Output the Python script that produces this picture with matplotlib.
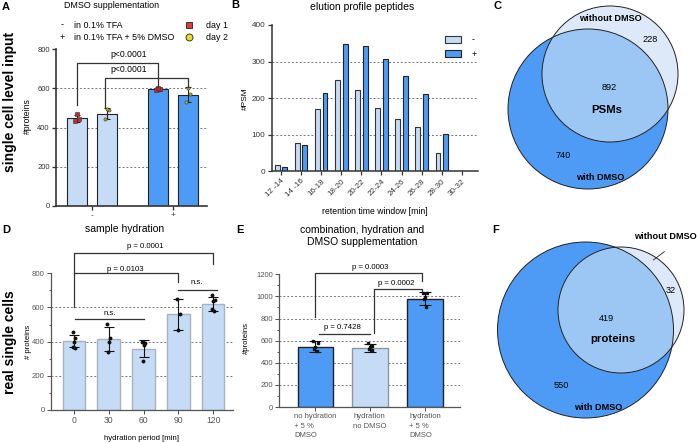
import matplotlib.pyplot as plt
from matplotlib.patches import Circle
from matplotlib.lines import Line2D
from matplotlib.ticker import MultipleLocator

plt.rcParams['font.family'] = ['Liberation Sans', 'DejaVu Sans']

# ---------------- datos ----------------
# A: DMSO supplementation
a_pos = [0, 1, 2.7, 3.7]
a_mean = [446, 470, 595, 567]
a_sd = [20, 27, 10, 38]
a_pts = [[432, 444, 468], [441, 487, 492], [591, 596, 600], [530, 572, 601]]
a_day = [1, 2, 1, 2]
a_groups = ['-', '+']

# B: elution profile
b_windows = ['12 -14', '14 -16', '16-18', '18-20', '20-22', '22-24', '24-26', '26-28', '28-30', '30-32']
b_minus = [18, 78, 170, 249, 221, 173, 143, 121, 51, 2]
b_plus = [13, 71, 215, 347, 342, 306, 260, 211, 101, 2]

# C / F: venn (solo sin DMSO, ambos, solo con DMSO)
c_counts = [228, 892, 740]
f_counts = [32, 419, 550]

# D: sample hydration
d_times = ['0', '30', '60', '90', '120']
d_mean = [402, 414, 359, 561, 621]
d_sd = [35, 70, 50, 91, 40]
d_pts = [[455, 420, 400, 370, 360], [505, 422, 397, 337], [398, 390, 380, 285],
         [652, 560, 468], [672, 645, 635, 590, 580]]

# E: combination
e_labels = ['no hydration\n+ 5 %\nDMSO', 'hydration\nno DMSO', 'hydration\n+ 5 %\nDMSO']
e_mean = [545, 536, 978]
e_sd = [50, 35, 60]
e_pts = [[600, 575, 540, 520, 510], [580, 555, 540, 525, 515], [1035, 1030, 995, 975, 900]]

LIGHT = '#c6dcf6'
DARK = '#4d9bf5'
W, H = 697, 442

fig = plt.figure(figsize=(W / 100, H / 100), dpi=100)

def rect(l, t, r, b):
    return [l / W, 1 - b / H, (r - l) / W, (b - t) / H]

# capa para textos y venn en pixeles
ov = fig.add_axes([0, 0, 1, 1])
ov.set_xlim(0, W)
ov.set_ylim(H, 0)
ov.axis('off')

def estilo(ax, col='#333333', lw=1.0):
    for s in ['top', 'right']:
        ax.spines[s].set_visible(False)
    for s in ['left', 'bottom']:
        ax.spines[s].set_color(col)
        ax.spines[s].set_linewidth(lw)
    ax.tick_params(colors=col, length=3, width=lw * 0.8, pad=1.5)
    ax.set_facecolor('none')

def rejilla(ax, vals):
    for v in vals:
        ax.axhline(v, color='#777777', lw=0.7, ls=(0, (2, 2)), zorder=0)

def corchete(ax, x1, x2, y, y1, y2, col='#333333', lw=0.9):
    ax.plot([x1, x1, x2, x2], [y1, y, y, y2], color=col, lw=lw, clip_on=False, zorder=5)

jit = [-0.08, 0.08, 0.0, -0.05, 0.05]

# ---------------- A ----------------
axA = fig.add_axes(rect(56, 49, 207, 206))
estilo(axA, lw=1.2)
rejilla(axA, [200, 400, 600])
colsA = [LIGHT, LIGHT, DARK, DARK]
axA.bar(a_pos, a_mean, width=0.66, color=colsA, edgecolor='#222222', lw=0.8, zorder=2)
axA.errorbar(a_pos, a_mean, yerr=a_sd, fmt='none', ecolor='#222222', elinewidth=0.8,
             capsize=2.5, capthick=0.8, zorder=3)
for i, pts in enumerate(a_pts):
    for j, v in enumerate(pts):
        if a_day[i] == 1:
            axA.plot(a_pos[i] + jit[j], v, 's', ms=2.3, mfc='#c8282e', mec='#333333', mew=0.4, zorder=4)
        else:
            axA.plot(a_pos[i] + jit[j], v, 'o', ms=2.3, mfc='#b8b020', mec='#333333', mew=0.4, zorder=4)
axA.set_xlim(-0.7, 4.33)
axA.set_ylim(0, 800)
axA.set_yticks([0, 200, 400, 600, 800])
axA.set_xticks([0.5, 3.2])
axA.set_xticklabels(a_groups, fontsize=6)
axA.tick_params(axis='y', labelsize=5.5)
axA.set_ylabel('#proteins', fontsize=6.2)
axA.yaxis.set_label_coords(-0.161, 0.57)
corchete(axA, 0, 2.7, 728, 515, 608)
corchete(axA, 0.93, 3.7, 653, 505, 608)
axA.text(1.73, 770, 'p<0.0001', ha='center', va='center', fontsize=6.2)
axA.text(1.73, 695, 'p<0.0001', ha='center', va='center', fontsize=6.2)
axA.legend(handles=[Line2D([], [], marker='s', ls='none', ms=5, mfc='#e8343a', mec='#222222', mew=0.6),
                    Line2D([], [], marker='o', ls='none', ms=5, mfc='#e8e01a', mec='#222222', mew=0.6)],
           labels=['day 1', 'day 2'], loc='center left', bbox_to_anchor=(180 / W, 1 - 31.5 / H),
           bbox_transform=fig.transFigure, frameon=False, fontsize=6.4, handlelength=1.0,
           handletextpad=1.4, labelspacing=0.35, borderpad=0)

ov.text(112, 6, 'DMSO supplementation', ha='center', va='center', fontsize=6.4)
ov.text(62, 25, '-', ha='center', va='center', fontsize=6.4)
ov.text(62, 37.7, '+', ha='center', va='center', fontsize=6.4)
ov.text(74, 25, 'in 0.1% TFA', ha='left', va='center', fontsize=6.4)
ov.text(74, 37.7, 'in 0.1% TFA + 5% DMSO', ha='left', va='center', fontsize=6.4)
ov.text(10, 102, 'single cell level input', rotation=90, ha='center', va='center',
        fontsize=10, fontweight='bold')

# ---------------- B ----------------
axB = fig.add_axes(rect(271.7, 25, 478, 171.3))
estilo(axB, lw=1.1)
rejilla(axB, [100, 200, 300])
xb = list(range(len(b_windows)))
axB.bar([x - 0.19 for x in xb], b_minus, width=0.24, color=LIGHT, edgecolor='#333333', lw=0.8, zorder=2, label='-')
axB.bar([x + 0.19 for x in xb], b_plus, width=0.24, color=DARK, edgecolor='#222222', lw=0.8, zorder=2, label='+')
axB.set_xlim(-0.46, 9.8)
axB.set_ylim(0, 400)
axB.set_yticks([0, 100, 200, 300, 400])
axB.set_xticks(xb)
axB.set_xticklabels(b_windows, rotation=45, ha='right', rotation_mode='anchor', fontsize=5.8)
axB.tick_params(axis='y', labelsize=5.9)
axB.set_ylabel('#PSM', fontsize=6.0)
axB.yaxis.set_label_coords(-0.108, 0.5)
axB.set_xlabel('retention time window [min]', fontsize=6.2)
axB.xaxis.set_label_coords(0.5, -0.245)
axB.legend(loc='upper left', bbox_to_anchor=(441 / W, 1 - 31 / H), bbox_transform=fig.transFigure,
           frameon=False, fontsize=6.4, handlelength=1.7, handleheight=0.8, handletextpad=1.2,
           labelspacing=0.6, borderpad=0)
ov.text(361.7, 7, 'elution profile peptides', ha='center', va='center', fontsize=7.5)

# ---------------- C y F (venn) ----------------
def venn(cg, rg, cs, rs, counts, pos, nombre):
    big = Circle(cg, rg, facecolor=DARK, edgecolor='none', zorder=1)
    small = Circle(cs, rs, facecolor='#dde9f8', edgecolor='none', zorder=2)
    inter = Circle(cs, rs, facecolor='#9cc7f5', edgecolor='none', zorder=3)
    for p in (big, small, inter):
        ov.add_patch(p)
    inter.set_clip_path(big)
    ov.add_patch(Circle(cg, rg, facecolor='none', edgecolor='#222222', lw=0.7, zorder=4))
    ov.add_patch(Circle(cs, rs, facecolor='none', edgecolor='#222222', lw=0.7, zorder=4))
    ov.text(*pos[0], str(counts[0]), ha='center', va='center', fontsize=6.6, zorder=5)
    ov.text(*pos[1], str(counts[1]), ha='center', va='center', fontsize=6.6, zorder=5)
    ov.text(*pos[2], str(counts[2]), ha='center', va='center', fontsize=6.6, zorder=5)
    ov.text(*pos[3], nombre, ha='center', va='center', fontsize=8.2, fontweight='bold', zorder=5)

venn((588, 109), 80, (610, 74), 68, c_counts,
     [(650, 39), (609, 88), (562.7, 155), (606.7, 110)], 'PSMs')
ov.text(610, 18.3, 'without DMSO', ha='center', va='center', fontsize=6.6, fontweight='bold', zorder=5)
ov.text(600, 177.7, 'with DMSO', ha='center', va='center', fontsize=6.6, fontweight='bold', zorder=5)

venn((585.5, 330), 88, (621, 310), 63, f_counts,
     [(670.7, 290.7), (606.7, 318.3), (561, 385), (612.7, 339.3)], 'proteins')
ov.text(665.5, 236.7, 'without DMSO', ha='center', va='center', fontsize=6.6, fontweight='bold', zorder=5)
ov.plot([664.3, 653.3], [251.7, 260], color='#222222', lw=0.6, zorder=5)
ov.text(598.3, 407.7, 'with DMSO', ha='center', va='center', fontsize=6.6, fontweight='bold', zorder=5)

# ---------------- D ----------------
axD = fig.add_axes(rect(51, 273.3, 233, 410))
estilo(axD, col='#555555', lw=0.9)
rejilla(axD, [200, 400, 600])
xd = list(range(len(d_times)))
axD.bar(xd, d_mean, width=0.65, color=LIGHT, edgecolor='#a8b2bc', lw=1.0, zorder=2)
axD.errorbar(xd, d_mean, yerr=d_sd, fmt='none', ecolor='#111111', elinewidth=0.8,
             capsize=3.5, capthick=0.8, zorder=3)
for i, pts in enumerate(d_pts):
    for j, v in enumerate(pts):
        axD.plot(i + jit[j] * 0.5, v, 'o', ms=1.8, color='#111111', zorder=4)
axD.set_xlim(-0.66, 4.57)
axD.set_ylim(0, 800)
axD.set_yticks([0, 200, 400, 600, 800])
axD.yaxis.set_minor_locator(MultipleLocator(100))
axD.tick_params(axis='y', which='minor', length=1.8, width=0.7, colors='#555555')
axD.set_xticks(xd)
axD.set_xticklabels(d_times, fontsize=6.2)
axD.tick_params(axis='y', labelsize=5.6)
axD.set_ylabel('# proteins', fontsize=5.6)
axD.yaxis.set_label_coords(-0.106, 0.5)
axD.set_xlabel('hydration period [min]', fontsize=5.6)
axD.xaxis.set_label_coords(0.5, -0.18)
corchete(axD, 0, 4, 916, 602, 854)
corchete(axD, 0, 3, 800, 800, 750)
axD.plot([0.03, 2.0], [534, 534], color='#333333', lw=0.9, zorder=5)
axD.plot([2.99, 4.1], [702, 702], color='#333333', lw=0.9, zorder=5)
axD.text(2.04, 955, 'p = 0.0001', ha='center', va='center', fontsize=5.6)
axD.text(1.47, 825, 'p = 0.0103', ha='center', va='center', fontsize=5.6)
axD.text(1.03, 567, 'n.s.', ha='center', va='center', fontsize=5.6)
axD.text(3.53, 744, 'n.s.', ha='center', va='center', fontsize=5.6)
ov.text(125, 229, 'sample hydration', ha='center', va='center', fontsize=7.5)
ov.text(10, 341.7, 'real single cells', rotation=90, ha='center', va='center',
        fontsize=10, fontweight='bold')

# ---------------- E ----------------
axE = fig.add_axes(rect(279.3, 274.3, 460, 407))
estilo(axE, col='#555555', lw=0.9)
rejilla(axE, [200, 400, 600, 800, 1000])
xe = list(range(len(e_labels)))
axE.bar(xe, e_mean, width=0.65, color=[DARK, LIGHT, DARK],
        edgecolor=['#222222', '#8c969f', '#222222'], lw=1.0, zorder=2)
axE.errorbar(xe, e_mean, yerr=e_sd, fmt='none', ecolor='#111111', elinewidth=0.8,
             capsize=4, capthick=0.8, zorder=3)
for i, pts in enumerate(e_pts):
    for j, v in enumerate(pts):
        axE.plot(i + jit[j] * 0.5, v, 's', ms=1.8, color='#111111', zorder=4)
axE.set_xlim(-0.66, 2.64)
axE.set_ylim(0, 1200)
axE.set_yticks([0, 200, 400, 600, 800, 1000, 1200])
axE.yaxis.set_minor_locator(MultipleLocator(100))
axE.tick_params(axis='y', which='minor', length=1.8, width=0.7, colors='#555555')
axE.set_xticks(xe)
axE.set_xticklabels(e_labels, fontsize=5.5, va='top', multialignment='left', linespacing=1.5)
axE.tick_params(axis='y', labelsize=5.5)
axE.set_ylabel('#proteins', fontsize=5.6)
axE.yaxis.set_label_coords(-0.162, 0.52)
corchete(axE, 0, 1.94, 1216, 818, 1135)
corchete(axE, 1.07, 1.94, 1066, 672, 1050)
axE.plot([0.06, 0.99], [657, 657], color='#333333', lw=0.9, zorder=5)
axE.text(0.995, 1261, 'p = 0.0003', ha='center', va='center', fontsize=5.6)
axE.text(1.48, 1121, 'p = 0.0002', ha='center', va='center', fontsize=5.6)
axE.text(0.5, 721, 'p = 0.7428', ha='center', va='center', fontsize=5.6)
ov.text(361.7, 236, 'combination, hydration and\nDMSO supplementation', ha='center', va='center',
        fontsize=7.5, linespacing=1.15)

# letras de panel
for letra, x, y in [('A', 6, 7), ('B', 235, 5), ('C', 497, 6), ('D', 6, 230), ('E', 240, 230), ('F', 496, 230)]:
    ov.text(x, y, letra, ha='center', va='center', fontsize=8, fontweight='bold')

fig.savefig('out.png', dpi=100)
